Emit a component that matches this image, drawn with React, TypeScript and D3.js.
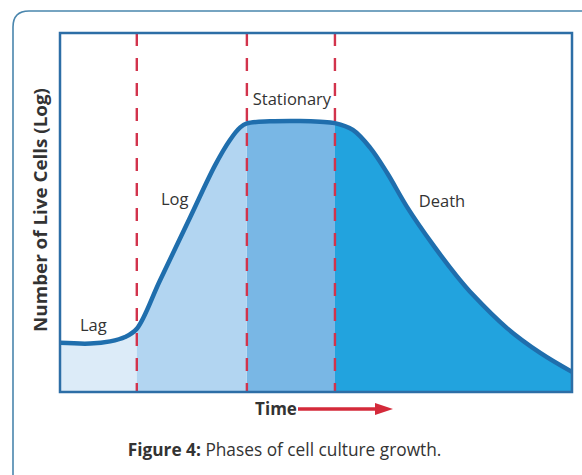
import React from 'react';
import * as d3 from 'd3';

// canvas
const width = 582;
const height = 475;

// plot frame
const frameLeft = 60;
const frameRight = 572;
const frameTop = 33;
const frameBottom = 392;

// data: time (0..100) vs live cells (log units, 0..10)
const times = [0, 5.9, 9.8, 12.7, 15.0, 19.5, 25.4, 30.3, 33.2, 35.2, 36.5, 41.0, 46.9, 50.8, 53.7, 57.2, 60.6, 63.9, 67.8, 72.9, 77.5, 80.7, 87.3, 93.8, 100];
const liveCells = [1.37, 1.35, 1.41, 1.53, 1.76, 3.1, 4.86, 6.32, 7.02, 7.37, 7.48, 7.54, 7.55, 7.53, 7.49, 7.3, 6.8, 6.1, 5.15, 4.09, 3.23, 2.7, 1.78, 1.09, 0.56];

// phases
const phaseNames = ['Lag', 'Log', 'Stationary', 'Death'];
const phaseBounds = [0, 15, 36.5, 53.7, 100];
const phaseColors = ['#dcebf8', '#b2d5f1', '#79b7e5', '#22a3de'];

// label spots (time, value)
const labelTimes = [6.5, 22.4, 45.3, 74.6];
const labelValues = [1.7, 5.2, 8.0, 5.15];

// styles
const curveColor = '#1f6ead';
const frameColor = '#2d6ea6';
const dashColor = '#d2334c';
const arrowColor = '#d42a3a';
const textColor = '#333333';
const font = "'Open Sans', 'Noto Sans', sans-serif";

const x = d3.scaleLinear().domain([0, 100]).range([frameLeft, frameRight]);
const y = d3.scaleLinear().domain([0, 10]).range([frameBottom, frameTop]);

const points: [number, number][] = times.map((t, i) => [t, liveCells[i]]);

const curveLine = d3
  .line<[number, number]>()
  .x((d) => x(d[0]))
  .y((d) => y(d[1]))
  .curve(d3.curveCatmullRom.alpha(0.5));

const curveArea = d3
  .area<[number, number]>()
  .x((d) => x(d[0]))
  .y0(y(0))
  .y1((d) => y(d[1]))
  .curve(d3.curveCatmullRom.alpha(0.5));

const App = () => (
  <svg
    width={width}
    height={height}
    style={{ position: 'absolute', left: 0, top: 0, background: '#ffffff' }}
  >
    <defs>
      {phaseNames.map((name, i) => (
        <clipPath id={`phase-${i}`} key={name}>
          <rect
            x={x(phaseBounds[i])}
            y={frameTop}
            width={x(phaseBounds[i + 1]) - x(phaseBounds[i])}
            height={frameBottom - frameTop}
          />
        </clipPath>
      ))}
    </defs>

    {/* outer rounded box */}
    <path
      d={`M13,${height + 5} L13,27 Q13,11 29,11 L${width + 5},11`}
      fill="none"
      stroke="#4a86ad"
      strokeWidth={1.6}
    />

    {/* phase fills */}
    {phaseNames.map((name, i) => (
      <path key={name} d={curveArea(points) || ''} fill={phaseColors[i]} clipPath={`url(#phase-${i})`} />
    ))}

    {/* phase boundaries */}
    {phaseBounds.slice(1, -1).map((b) => (
      <line
        key={b}
        x1={x(b)}
        x2={x(b)}
        y1={frameTop}
        y2={frameBottom}
        stroke={dashColor}
        strokeWidth={2.4}
        strokeDasharray="13,12"
      />
    ))}

    {/* growth curve */}
    <path d={curveLine(points) || ''} fill="none" stroke={curveColor} strokeWidth={4.5} strokeLinejoin="round" />

    {/* frame */}
    <rect
      x={frameLeft}
      y={frameTop}
      width={frameRight - frameLeft}
      height={frameBottom - frameTop}
      fill="none"
      stroke={frameColor}
      strokeWidth={2.5}
    />

    {/* phase labels */}
    {phaseNames.map((name, i) => (
      <text
        key={name}
        x={x(labelTimes[i])}
        y={y(labelValues[i])}
        textAnchor="middle"
        fontFamily={font}
        fontSize={16.5}
        fill={textColor}
      >
        {name}
      </text>
    ))}

    {/* y axis title */}
    <text
      transform={`translate(47,210) rotate(-90)`}
      textAnchor="middle"
      fontFamily={font}
      fontSize={18}
      fontWeight="bold"
      fill={textColor}
      textLength={244}
      lengthAdjust="spacingAndGlyphs"
    >
      Number of Live Cells (Log)
    </text>

    {/* x axis title with arrow */}
    <text x={276} y={414.5} textAnchor="middle" fontFamily={font} fontSize={17} fontWeight="bold" fill={textColor}>
      Time
    </text>
    <line x1={298} x2={377} y1={409} y2={409} stroke={arrowColor} strokeWidth={3.5} />
    <path d="M375,403 L393,409 L375,415 Z" fill={arrowColor} />

    {/* caption */}
    <text x={284.5} y={456} textAnchor="middle" fontFamily={font} fontSize={17.3} fill={textColor}>
      <tspan fontWeight="bold">Figure 4:</tspan> Phases of cell culture growth.
    </text>
  </svg>
);

export default App;
